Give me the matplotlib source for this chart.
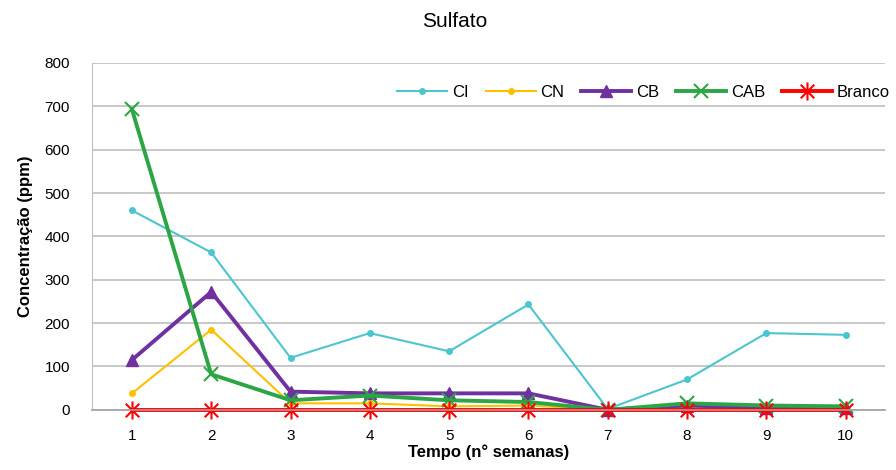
import numpy as np
import matplotlib.pyplot as plt
from matplotlib.path import Path

plt.rcParams["font.family"] = ["Liberation Sans", "DejaVu Sans"]

semanas = [1, 2, 3, 4, 5, 6, 7, 8, 9, 10]
ci = [460, 363, 120, 177, 135, 243, 2, 70, 177, 173]
cn = [38, 185, 15, 15, 8, 10, 0, 5, 3, 3]
cb = [115, 272, 42, 38, 38, 38, 0, 10, 5, 5]
cab = [693, 82, 22, 33, 22, 18, 0, 15, 10, 8]
branco = [0, 0, 0, 0, 0, 0, 0, 0, 0, 0]

# asterisk marker: X with vertical bar (Excel style)
star = Path([(0, -1), (0, 1), (-0.75, -0.75), (0.75, 0.75), (-0.75, 0.75), (0.75, -0.75)],
            [Path.MOVETO, Path.LINETO] * 3)

fig, ax = plt.subplots(figsize=(8.96, 4.70), dpi=100)
fig.subplots_adjust(left=0.103, right=0.988, top=0.866, bottom=0.128)

ax.plot(semanas, ci, color="#4BC5CF", lw=1.5, marker="o", ms=4, label="CI", clip_on=False)
ax.plot(semanas, cn, color="#FFC000", lw=1.5, marker="o", ms=4, label="CN", clip_on=False)
ax.plot(semanas, cb, color="#7030A0", lw=2.8, marker="^", ms=9, label="CB", clip_on=False)
ax.plot(semanas, cab, color="#2CA644", lw=2.8, marker="x", ms=10, mew=1.5, label="CAB", clip_on=False)
ax.plot(semanas, branco, color="#FF0000", lw=2.8, marker=star, ms=13, mew=1.5, label="Branco",
        clip_on=False)

ax.set_xlim(0.5, 10.5)
ax.set_ylim(0, 800)
ax.set_xticks(semanas)
ax.set_yticks(np.arange(0, 801, 100))
ax.tick_params(axis="both", labelsize=11, length=0)
ax.tick_params(axis="y", pad=16)
ax.tick_params(axis="x", length=5, color="#A0A0A0", direction="in", pad=14)
ax.grid(axis="y", color="#BFBFBF", lw=1.2)
ax.set_axisbelow(True)
for s in ["top", "right"]:
    ax.spines[s].set_visible(False)
ax.spines["left"].set_color("#BFBFBF")
ax.spines["bottom"].set_color("#A0A0A0")
ax.spines["bottom"].set_linewidth(1.2)

fig.text(0.508, 0.955, "Sulfato", fontsize=15, ha="center", va="center")
ax.set_xlabel("Tempo (n° semanas)", fontsize=12, fontweight="bold", labelpad=1)
ax.set_ylabel("Concentração (ppm)", fontsize=12, fontweight="bold", labelpad=8)

ax.legend(loc="upper right", bbox_to_anchor=(1.025, 0.98), ncol=5, frameon=False,
          fontsize=12, handlelength=3.0, columnspacing=1.0, handletextpad=0.3)

fig.savefig("out.png", dpi=100)
